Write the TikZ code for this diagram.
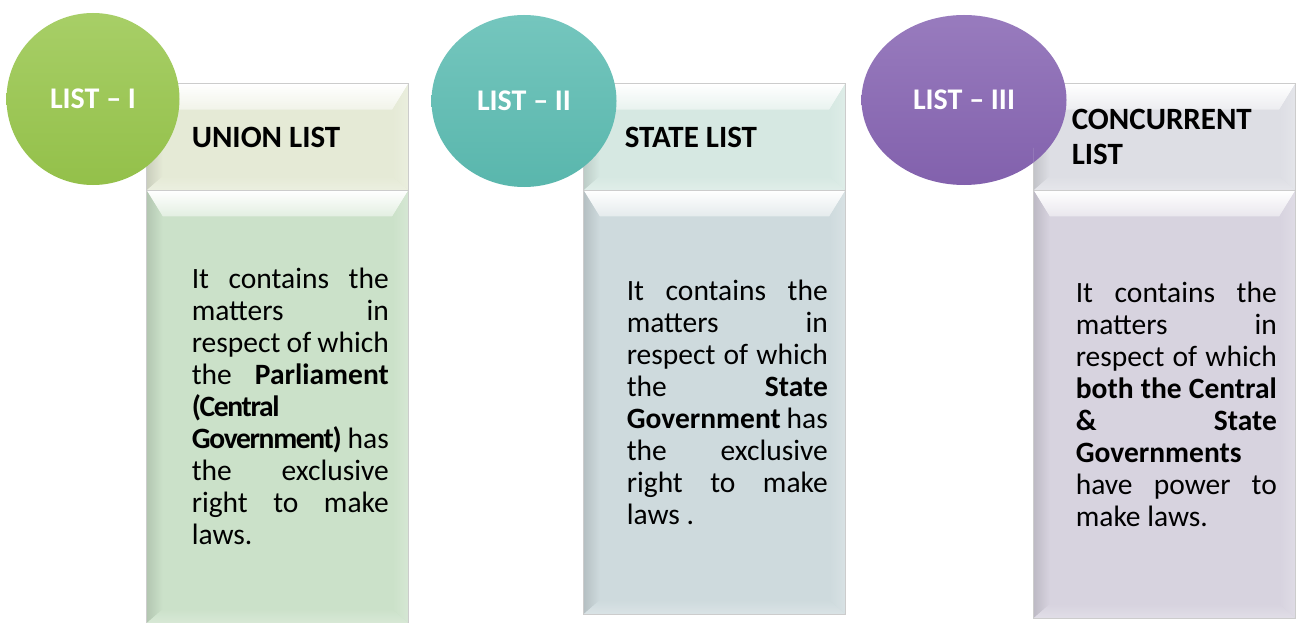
\documentclass[tikz,border=0pt]{standalone}
\usepackage{fontspec}
\setmainfont{Carlito}
\usepackage{xcolor}
\usetikzlibrary{shapes.geometric, positioning, calc}
\tolerance=10000
\hbadness=10000

\definecolor{unionball}{RGB}{152,198,76}
\definecolor{stateball}{RGB}{92,188,178}
\definecolor{concball}{RGB}{134,100,178}
\definecolor{unionhead}{RGB}{229,234,214}
\definecolor{unionbody}{RGB}{203,225,201}
\definecolor{statehead}{RGB}{214,232,226}
\definecolor{statebody}{RGB}{206,218,221}
\definecolor{conchead}{RGB}{221,222,228}
\definecolor{concbody}{RGB}{215,211,223}

\tikzstyle{listball} = [ellipse, inner sep=0pt, text=white, font=\fontsize{30}{36}\selectfont\bfseries]
\tikzstyle{listbox} = [rectangle, inner sep=0pt, draw=gray!40, line width=0.8pt]
\tikzstyle{headtext} = [align=left, inner sep=0pt, font=\fontsize{31}{35}\selectfont\bfseries]
\tikzstyle{bodytext} = [align=justify, inner sep=0pt, font=\fontsize{29.5}{32}\selectfont]

% condensed bold, as the first list prints it
\newcommand{\tightbf}[1]{\textbf{\addfontfeature{LetterSpace=-4.5}#1}}

% soft bevel on a box node
\newcommand{\bevelbox}[2]{%
  \shade[top color=white, bottom color=#2!55!white] (#1.north west) -- (#1.north east) -- ([shift={(-16pt,-26pt)}]#1.north east) -- ([shift={(16pt,-26pt)}]#1.north west) -- cycle;
  \shade[left color=#2!88!black, right color=#2] (#1.north west) -- ([shift={(16pt,-26pt)}]#1.north west) -- ([shift={(16pt,14pt)}]#1.south west) -- (#1.south west) -- cycle;
  \shade[left color=#2, right color=#2!80!white] (#1.north east) -- ([shift={(-16pt,-26pt)}]#1.north east) -- ([shift={(-16pt,14pt)}]#1.south east) -- (#1.south east) -- cycle;
  \shade[top color=#2, bottom color=#2!75!white] (#1.south west) -- ([shift={(16pt,14pt)}]#1.south west) -- ([shift={(-16pt,14pt)}]#1.south east) -- (#1.south east) -- cycle;
  \draw[gray!40, line width=0.8pt] (#1.north west) rectangle (#1.south east);
}

\begin{document}
\begin{tikzpicture}[x=1pt, y=-1pt]
\useasboundingbox (0,0) rectangle (1296,623);
\fill[white] (0,0) rectangle (1296,623);

% Header boxes
\node (hdrA) [listbox, fill=unionhead, minimum width=261pt, minimum height=106pt] at (277.5,137) {};
\node (hdrB) [listbox, fill=statehead, minimum width=261pt, minimum height=106pt] at (714.5,137) {};
\node (hdrC) [listbox, fill=conchead, minimum width=261pt, minimum height=106pt] at (1164.5,137) {};

% Body boxes
\node (bodyA) [listbox, fill=unionbody, minimum width=261pt, minimum height=432pt, below=0pt of hdrA] {};
\node (bodyB) [listbox, fill=statebody, minimum width=261pt, minimum height=423pt, below=0pt of hdrB] {};
\node (bodyC) [listbox, fill=concbody, minimum width=261pt, minimum height=427pt, below=0pt of hdrC] {};

\foreach \bx/\col in {hdrA/unionhead, hdrB/statehead, hdrC/conchead, bodyA/unionbody, bodyB/statebody, bodyC/concbody}
  \bevelbox{\bx}{\col};

% Circles
\node (ballA) [listball, minimum width=173pt, minimum height=172pt, top color=unionball!85!white, bottom color=unionball!97!black] at (93,99) {LIST – I};
\node (ballB) [listball, minimum width=185pt, minimum height=172pt, top color=stateball!85!white, bottom color=stateball!97!black] at (524,101) {LIST – II};
\node (ballC) [listball, minimum width=205pt, minimum height=170pt, top color=concball!85!white, bottom color=concball!97!black] at (964,100) {LIST – III};

% light rim where the third circle meets its box
\begin{scope}
\clip (hdrC.north west) rectangle ([yshift=-36pt]hdrC.west);
\fill[conchead!50!white, even odd rule] (ballC.center) ellipse [x radius=102.5pt, y radius=85pt] ([xshift=-15pt]ballC.center) ellipse [x radius=102.5pt, y radius=85pt];
\end{scope}

% Headings
\node (headA) [headtext, right=45pt of hdrA.west] {UNION LIST};
\node (headB) [headtext, right=41pt of hdrB.west] {STATE LIST};
\node (headC) [headtext, right=38pt of hdrC.west] {CONCURRENT\\LIST};

% Texts
\node (txtA) [bodytext, text width=197pt, right=45pt of bodyA.west] {It~contains~the\linebreak matters~in\linebreak respect~of~which\linebreak the~\textbf{Parliament}\linebreak \tightbf{(Central}\linebreak \tightbf{Government)}~has\linebreak the~exclusive\linebreak right~to~make\linebreak laws.};
\node (txtB) [bodytext, text width=201pt, right=43pt of bodyB.west] {It~contains~the\linebreak matters~in\linebreak respect~of~which\linebreak the~\textbf{State}\linebreak \textbf{Government}~has\linebreak the~exclusive\linebreak right~to~make\linebreak laws~.};
\node (txtC) [bodytext, text width=201pt, right=42pt of bodyC.west] {It~contains~the\linebreak matters~in\linebreak respect~of~which\linebreak \textbf{both~the~Central}\linebreak \textbf{\&~State}\linebreak \textbf{Governments}\linebreak have~power~to\linebreak make~laws.};

\end{tikzpicture}
\end{document}
